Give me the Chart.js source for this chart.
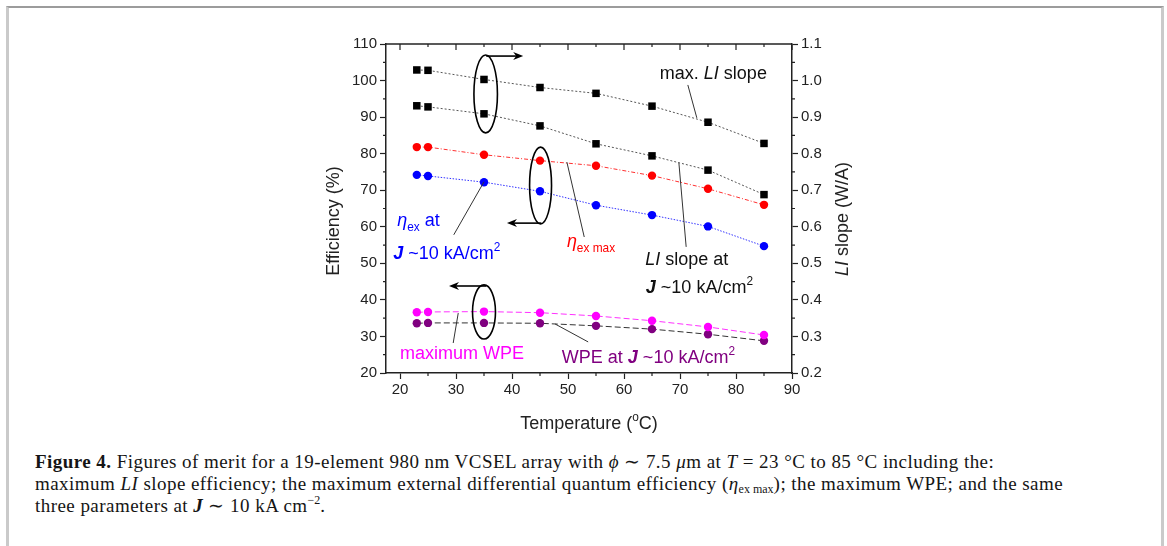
<!DOCTYPE html>
<html>
<head>
<meta charset="utf-8">
<script src="https://cdn.jsdelivr.net/npm/chart.js@4.4.1/dist/chart.umd.min.js"></script>
<style>
  body { margin: 0; background: #fff; }
  #frame { position: absolute; left: 6px; top: 6px; width: 1152px; height: 560px;
           border-top: 2px solid #9c9c9c; border-left: 3px solid #cacaca; border-right: 3px solid #cacaca; }
  #wrap { position: absolute; left: 0; top: 0; width: 1167px; height: 440px; }
  #cap { position: absolute; left: 35px; top: 451px; width: 1120px; color: #151515; white-space: nowrap;
         font-family: "Liberation Serif", "Times New Roman", serif; font-size: 19px; letter-spacing: 0.45px; line-height: 22px; }
  #cap sub { font-size: 12px; vertical-align: -3px; line-height: 0; letter-spacing: 0; }
  #cap sup { font-size: 12px; vertical-align: 8px; line-height: 0; letter-spacing: 0; }
</style>
</head>
<body>
<div id="frame"></div>
<div id="wrap"><canvas id="myChart" width="1167" height="440"></canvas></div>
<div id="cap">
  <b>Figure 4.</b> Figures of merit for a 19-element 980 nm VCSEL array with <i>ϕ</i> ∼ 7.5 <i>μ</i>m at <i>T</i> = 23 °C to 85 °C including the:<br>
  maximum <i>LI</i> slope efficiency; the maximum external differential quantum efficiency (<i>η</i><sub>ex max</sub>); the maximum WPE; and the same<br>
  three parameters at <b><i>J</i></b> ∼ 10 kA cm<sup>−2</sup>.
</div>
<script>
// data
const temps = [23, 25, 35, 45, 55, 65, 75, 85];
const maxLISlope = [1.029, 1.028, 1.003, 0.981, 0.965, 0.930, 0.886, 0.828];   // W/A, right axis
const liSlopeAtJ = [0.931, 0.928, 0.909, 0.876, 0.827, 0.794, 0.755, 0.688];   // W/A, right axis
const etaExMax = [81.8, 81.8, 79.7, 78.1, 76.7, 74.0, 70.4, 66.0];             // %
const etaExAtJ = [74.2, 73.9, 72.2, 69.7, 65.9, 63.2, 60.1, 54.7];             // %
const maxWPE = [36.6, 36.7, 36.8, 36.5, 35.6, 34.3, 32.6, 30.4];               // %
const wpeAtJ = [33.6, 33.7, 33.7, 33.6, 32.9, 32.0, 30.6, 28.8];               // %

const xTicks = [20, 30, 40, 50, 60, 70, 80, 90];
const yTicks = [20, 30, 40, 50, 60, 70, 80, 90, 100, 110];
const y2Ticks = [0.2, 0.3, 0.4, 0.5, 0.6, 0.7, 0.8, 0.9, 1.0, 1.1];

const FONT = '"Liberation Sans", Arial, sans-serif';
const INK = '#222';

function pts(arr) {
  return temps.map((t, i) => ({ x: t, y: arr[i] }));
}

function series(label, arr, axis, color, lineColor, dash, shape, r) {
  return {
    label: label,
    data: pts(arr),
    yAxisID: axis,
    showLine: true,
    borderColor: lineColor,
    borderWidth: 1,
    borderDash: dash,
    backgroundColor: color,
    pointBackgroundColor: color,
    pointBorderColor: color,
    pointBorderWidth: 0,
    pointStyle: shape,
    pointRadius: r
  };
}

// rich text: runs of {t, it, b, sub, sup}
function runFont(r, size) {
  const fs = (r.sub || r.sup) ? size * 0.66 : size;
  return (r.it ? 'italic ' : '') + (r.b ? 'bold ' : '') + fs + 'px ' + FONT;
}
function runsWidth(ctx, runs, size) {
  let w = 0;
  runs.forEach(r => { ctx.font = runFont(r, size); w += ctx.measureText(r.t).width; });
  return w;
}
function drawRuns(ctx, x, y, runs, size, color) {
  let cx = x;
  ctx.fillStyle = color;
  ctx.textAlign = 'left';
  ctx.textBaseline = 'alphabetic';
  runs.forEach(r => {
    ctx.font = runFont(r, size);
    const dy = r.sub ? size * 0.3 : (r.sup ? -size * 0.45 : 0);
    ctx.fillText(r.t, cx, y + dy);
    cx += ctx.measureText(r.t).width;
  });
}

const jRuns = [{ t: 'J', it: true, b: true }, { t: ' ~10 kA/cm' }, { t: '2', sup: true }];

// annotations in data units (x: degC, y: left axis %)
const labels = [
  { x: 66.4, y: 100.4, color: '#111', runs: [{ t: 'max. ' }, { t: 'LI', it: true }, { t: ' slope' }] },
  { x: 19.5, y: 60.2, color: '#0000ff', runs: [{ t: 'η', it: true }, { t: 'ex', sub: true }, { t: ' at' }] },
  { x: 18.8, y: 51.2, color: '#0000ff', runs: jRuns },
  { x: 49.8, y: 54.5, color: '#ff0000', runs: [{ t: 'η', it: true }, { t: 'ex max', sub: true }] },
  { x: 63.8, y: 49.6, color: '#111', runs: [{ t: 'LI', it: true }, { t: ' slope at' }] },
  { x: 63.9, y: 41.9, color: '#111', runs: jRuns },
  { x: 20.0, y: 23.8, color: '#ff00ff', runs: [{ t: 'maximum WPE' }] },
  { x: 48.9, y: 22.7, color: '#800080', runs: [{ t: 'WPE at ' }].concat(jRuns) }
];
const leaders = [
  [71.4, 98.8, 73.0, 89.8],
  [49.8, 77.7, 52.9, 57.2],
  [69.8, 77.5, 71.1, 54.5],
  [35.0, 72.3, 29.6, 57.8],
  [30.4, 36.4, 29.5, 28.2],
  [47.7, 33.4, 53.6, 28.5]
];
const ellipses = [
  [35.3, 96.35, 2.1, 10.65],
  [45.1, 71.3, 1.96, 10.5],
  [35.0, 36.7, 2.05, 7.4]
];
const arrows = [
  [35.4, 106.7, 42.0, 106.7],
  [45.2, 61.0, 39.1, 61.0],
  [35.4, 43.8, 28.75, 43.8]
];

const decor = {
  id: 'decor',
  afterDraw(chart) {
    const ctx = chart.ctx;
    const a = chart.chartArea;
    const sx = chart.scales.x, sy = chart.scales.y;
    ctx.save();
    // top frame line
    ctx.strokeStyle = INK;
    ctx.lineWidth = 1.5;
    ctx.beginPath();
    ctx.moveTo(a.left, a.top);
    ctx.lineTo(a.right, a.top);
    ctx.stroke();
    ctx.lineWidth = 1.2;
    ctx.beginPath();
    for (let v = 20; v <= 90; v += 5) {
      const px = sx.getPixelForValue(v);
      const len = v % 10 === 0 ? 6 : 3;
      ctx.moveTo(px, a.top); ctx.lineTo(px, a.top + len);       // top, inward
      if (v % 10 !== 0) { ctx.moveTo(px, a.bottom); ctx.lineTo(px, a.bottom + 3); }
    }
    for (let v = 25; v < 110; v += 10) {
      const py = sy.getPixelForValue(v);
      ctx.moveTo(a.left, py); ctx.lineTo(a.left - 3, py);
      ctx.moveTo(a.right, py); ctx.lineTo(a.right + 3, py);
    }
    ctx.stroke();

    // axis titles
    const tSize = 18;
    const tx = [{ t: 'Temperature (' }, { t: 'o', sup: true }, { t: 'C)' }];
    drawRuns(ctx, (a.left + a.right) / 2 - runsWidth(ctx, tx, tSize) / 2, 429, tx, tSize, INK);
    const ty = [{ t: 'Efficiency (%)' }];
    ctx.save();
    ctx.translate(339, 221);
    ctx.rotate(-Math.PI / 2);
    drawRuns(ctx, -runsWidth(ctx, ty, tSize) / 2, 0, ty, tSize, INK);
    ctx.restore();
    const ty2 = [{ t: 'LI', it: true }, { t: ' slope (W/A)' }];
    ctx.save();
    ctx.translate(848, 219);
    ctx.rotate(-Math.PI / 2);
    drawRuns(ctx, -runsWidth(ctx, ty2, tSize) / 2, 0, ty2, tSize, INK);
    ctx.restore();

    // leader lines
    ctx.strokeStyle = '#333';
    ctx.lineWidth = 1;
    leaders.forEach(l => {
      ctx.beginPath();
      ctx.moveTo(sx.getPixelForValue(l[0]), sy.getPixelForValue(l[1]));
      ctx.lineTo(sx.getPixelForValue(l[2]), sy.getPixelForValue(l[3]));
      ctx.stroke();
    });
    // ellipses
    ctx.strokeStyle = '#000';
    ctx.lineWidth = 1.6;
    ellipses.forEach(e => {
      const cx = sx.getPixelForValue(e[0]), cy = sy.getPixelForValue(e[1]);
      const rx = sx.getPixelForValue(e[0] + e[2]) - cx;
      const ry = cy - sy.getPixelForValue(e[1] + e[3]);
      ctx.beginPath();
      ctx.ellipse(cx, cy, rx, ry, 0, 0, Math.PI * 2);
      ctx.stroke();
    });
    // arrows
    arrows.forEach(r => {
      const x0 = sx.getPixelForValue(r[0]), y0 = sy.getPixelForValue(r[1]);
      const x1 = sx.getPixelForValue(r[2]), y1 = sy.getPixelForValue(r[3]);
      const dir = Math.sign(x1 - x0);
      ctx.lineWidth = 1.6;
      ctx.beginPath();
      ctx.moveTo(x0, y0); ctx.lineTo(x1 - dir * 6, y1);
      ctx.stroke();
      ctx.fillStyle = '#000';
      ctx.beginPath();
      ctx.moveTo(x1, y1);
      ctx.lineTo(x1 - dir * 10, y1 - 4);
      ctx.lineTo(x1 - dir * 7, y1);
      ctx.lineTo(x1 - dir * 10, y1 + 4);
      ctx.closePath();
      ctx.fill();
    });
    // labels
    labels.forEach(l => {
      drawRuns(ctx, sx.getPixelForValue(l.x), sy.getPixelForValue(l.y), l.runs, 18, l.color);
    });
    ctx.restore();
  }
};

const tickFont = { family: FONT, size: 15 };
function axisBase() {
  return {
    type: 'linear',
    border: { display: true, color: INK, width: 1.5 },
    grid: { drawOnChartArea: false, drawTicks: true, tickLength: 6, tickWidth: 1.2, tickColor: INK },
    ticks: { font: tickFont, color: INK, padding: 3 }
  };
}

const xAxis = axisBase();
xAxis.position = 'bottom';
xAxis.min = 17.5;
xAxis.max = 90;
xAxis.afterBuildTicks = s => { s.ticks = xTicks.map(v => ({ value: v })); };
xAxis.afterFit = s => { s.height = 67; };
xAxis.ticks.padding = 2;

const yAxis = axisBase();
yAxis.position = 'left';
yAxis.min = 20;
yAxis.max = 110;
yAxis.afterBuildTicks = s => { s.ticks = yTicks.map(v => ({ value: v })); };
yAxis.afterFit = s => { s.width = 386; };

const y2Axis = axisBase();
y2Axis.position = 'right';
y2Axis.min = 0.2;
y2Axis.max = 1.1;
y2Axis.afterBuildTicks = s => { s.ticks = y2Ticks.map(v => ({ value: v })); };
y2Axis.afterFit = s => { s.width = 375; };
y2Axis.ticks.callback = v => v.toFixed(1);

const config = {
  type: 'scatter',
  data: {
    datasets: [
      series('max. LI slope', maxLISlope, 'y2', '#000', '#555', [2, 2], 'rect', 5.3),
      series('LI slope at J ~10 kA/cm2', liSlopeAtJ, 'y2', '#000', '#555', [2, 2], 'rect', 5.3),
      series('eta ex max', etaExMax, 'y', '#ff0000', '#ff3030', [4, 2, 1, 2], 'circle', 4.2),
      series('eta ex at J ~10 kA/cm2', etaExAtJ, 'y', '#0000ff', '#3030ff', [1.5, 1.5], 'circle', 4.2),
      series('maximum WPE', maxWPE, 'y', '#ff00ff', '#ff30ff', [6, 3], 'circle', 4.2),
      series('WPE at J ~10 kA/cm2', wpeAtJ, 'y', '#800080', '#333', [6, 3], 'circle', 4.2)
    ]
  },
  options: {
    responsive: false,
    animation: false,
    layout: { padding: { top: 44, left: 0, right: 0, bottom: 0 } },
    plugins: { legend: { display: false }, tooltip: { enabled: false } },
    scales: { x: xAxis, y: yAxis, y2: y2Axis }
  },
  plugins: [decor]
};

const myChart = new Chart(document.getElementById('myChart'), config);
</script>
</body>
</html>
